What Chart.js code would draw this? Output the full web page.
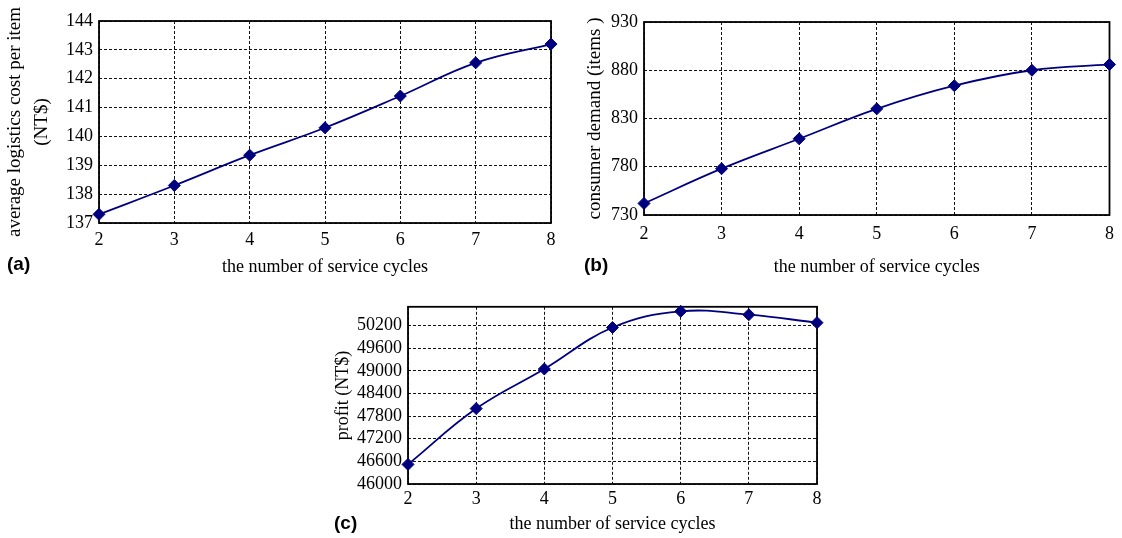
<!DOCTYPE html>
<html lang="en">
<head>
<meta charset="UTF-8">
<title>Service cycles</title>
<script src="https://cdn.jsdelivr.net/npm/chart.js@4.4.1/dist/chart.umd.min.js"></script>
<style>
    body { margin: 0; background: #fff; width: 1122px; height: 538px; position: relative; overflow: hidden; }
    canvas { position: absolute; }
    .tag { position: absolute; font-family: "Liberation Sans", Arial, sans-serif; font-weight: bold; font-size: 19px; color: #000; line-height: 22px; }
</style>
</head>
<body>
    <canvas id="chartA" width="565" height="285" style="left:0px; top:0px"></canvas>
    <canvas id="chartB" width="542" height="285" style="left:580px; top:0px"></canvas>
    <canvas id="chartC" width="507" height="248" style="left:320px; top:290px"></canvas>
    <div class="tag" style="left:7px; top:253px">(a)</div>
    <div class="tag" style="left:584px; top:254px">(b)</div>
    <div class="tag" style="left:334px; top:512px">(c)</div>

<script>
    // data
    const cycles = ['2', '3', '4', '5', '6', '7', '8'];
    const costPerItem = [137.3, 138.3, 139.35, 140.3, 141.4, 142.55, 143.2];
    const demand = [742, 778, 809, 840, 864, 880, 886];
    const profit = [46520, 48000, 49050, 50150, 50580, 50490, 50280];

    const costTicks = [137, 138, 139, 140, 141, 142, 143, 144];
    const demandTicks = [730, 780, 830, 880, 930];
    const profitTicks = [46000, 46600, 47200, 47800, 48400, 49000, 49600, 50200];

    const NAVY = '#00007f';
    const SERIF = "'Liberation Serif', 'Times New Roman', serif";

    // solid frame round the plot area (the axes only draw one side)
    const framePlugin = {
        id: 'frame',
        beforeDatasetsDraw(chart) {
            const a = chart.chartArea;
            const ctx = chart.ctx;
            ctx.save();
            ctx.strokeStyle = '#000';
            ctx.lineWidth = 1.8;
            ctx.strokeRect(a.left, a.top, a.right - a.left, a.bottom - a.top);
            ctx.restore();
        }
    };

    function makeChart(id, values, ticks, yMin, yMax, yTitle, g) {
        const ctx = document.getElementById(id).getContext('2d');
        return new Chart(ctx, {
            type: 'line',
            data: {
                labels: cycles,
                datasets: [{
                    data: values,
                    borderColor: NAVY,
                    backgroundColor: NAVY,
                    borderWidth: 1.8,
                    tension: 0.4,
                    pointStyle: 'rectRot',
                    pointRadius: 6,
                    pointBorderWidth: 1,
                    pointBackgroundColor: NAVY,
                    pointBorderColor: NAVY,
                    clip: false
                }]
            },
            options: {
                responsive: false,
                animation: false,
                devicePixelRatio: 1,
                layout: { padding: { top: g.top, right: g.right, left: 0, bottom: 0 } },
                plugins: { legend: { display: false }, tooltip: { enabled: false } },
                scales: {
                    x: {
                        type: 'category',
                        offset: false,
                        grid: { color: '#111', lineWidth: 1, drawTicks: false },
                        border: { display: false, dash: [3, 2] },
                        ticks: { color: '#000', padding: g.xPad, font: { family: SERIF, size: 18 } },
                        title: {
                            display: true,
                            text: 'the number of service cycles',
                            color: '#000',
                            font: { family: SERIF, size: 18 },
                            padding: { top: 0, bottom: g.xTitlePad }
                        },
                        afterFit: (s) => { s.height = g.xHeight; }
                    },
                    y: {
                        type: 'linear',
                        min: yMin,
                        max: yMax,
                        grid: { color: '#111', lineWidth: 1, drawTicks: false },
                        border: { display: false, dash: [3, 2] },
                        ticks: {
                            color: '#000',
                            padding: 6,
                            font: { family: SERIF, size: 18 },
                            callback: (v) => String(v)
                        },
                        afterBuildTicks: (s) => { s.ticks = ticks.map(v => ({ value: v })); },
                        title: {
                            display: true,
                            text: yTitle,
                            color: '#000',
                            font: { family: SERIF, size: g.yTitleSize, lineHeight: 1.4 },
                            padding: { top: g.yTitlePad, bottom: 0 }
                        },
                        afterFit: (s) => { s.width = g.yWidth; }
                    }
                }
            },
            plugins: [framePlugin]
        });
    }

    makeChart('chartA', costPerItem, costTicks, 137, 144,
        ['average logistics cost per item', '(NT$)'],
        { top: 21, right: 14, xHeight: 62, yWidth: 99, xPad: 6, xTitlePad: 7, yTitlePad: 2, yTitleSize: 19 });

    makeChart('chartB', demand, demandTicks, 730, 930,
        'consumer demand (items )',
        { top: 22, right: 10, xHeight: 70, yWidth: 64, xPad: 8, xTitlePad: 7, yTitlePad: 2, yTitleSize: 19 });

    makeChart('chartC', profit, profitTicks, 46000, 50700,
        'profit (NT$)',
        { top: 11, right: 10, xHeight: 54, yWidth: 88, xPad: 4, xTitlePad: 3, yTitlePad: 11, yTitleSize: 18 });
</script>
</body>
</html>
